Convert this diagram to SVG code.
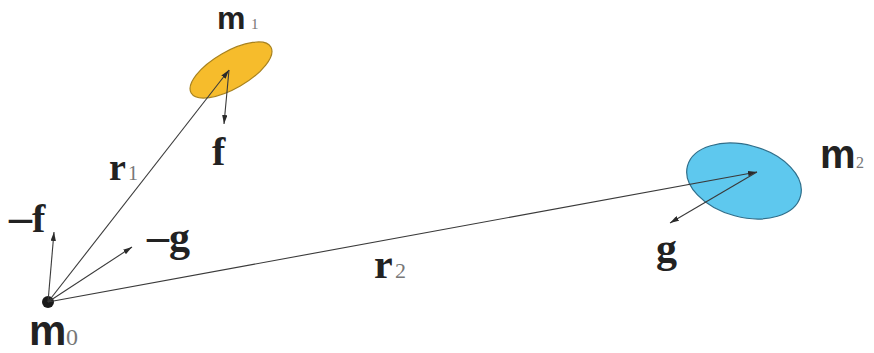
<svg xmlns="http://www.w3.org/2000/svg" width="874" height="353" viewBox="0 0 874 353">
<style>
.conn{stroke:#3a3a3a;stroke-width:1.1;fill:none;marker-end:url(#ah)}
.ms{font-family:"Liberation Sans",Arial,sans-serif;font-weight:bold;fill:#222}
.bs{font-family:"Liberation Serif","Times New Roman",serif;font-weight:bold;fill:#222}
.sub{font-family:"Liberation Serif","Times New Roman",serif;fill:#777}
</style>
<defs>
<marker id="ah" viewBox="0 0 10 6" refX="10" refY="3" markerWidth="9" markerHeight="5.4" markerUnits="userSpaceOnUse" orient="auto">
<path d="M0,0 L10,3 L0,6 Z" fill="#2a2a2a"/>
</marker>
</defs>
<rect width="874" height="353" fill="#fff"/>
<g id="m1">
<ellipse cx="231" cy="70" rx="46" ry="18.5" transform="rotate(-30 231 70)" fill="#F6BC2C" stroke="#A8821E" stroke-width="1.2"/>
<text class="ms" x="217" y="29" font-size="32">m</text><text class="sub" x="251" y="29" font-size="15">1</text>
</g>
<g id="m2">
<ellipse cx="744" cy="181" rx="58.5" ry="36" transform="rotate(15 744 181)" fill="#5EC8EE" stroke="#2F6E8A" stroke-width="1.2"/>
<text class="ms" x="820" y="168" font-size="40">m</text><text class="sub" x="856" y="168" font-size="16">2</text>
</g>
<g id="m0">
<circle cx="48" cy="302" r="6" fill="#1a1a1a"/>
<text class="ms" x="29" y="345" font-size="42">m</text><text class="sub" x="66" y="345" font-size="24">0</text>
</g>
<g id="connectors">
<line class="conn" x1="48" y1="302" x2="229" y2="70"/>
<line class="conn" x1="48" y1="302" x2="757" y2="172"/>
<line class="conn" x1="229" y1="70" x2="224" y2="124"/>
<line class="conn" x1="48" y1="302" x2="54" y2="232"/>
<line class="conn" x1="48" y1="302" x2="132" y2="247"/>
<line class="conn" x1="757" y1="172" x2="670" y2="223"/>
</g>
<g id="labels">
<text class="bs" x="212" y="165" font-size="40">f</text>
<text class="bs" x="109" y="180" font-size="38">r</text><text class="sub" x="128" y="180" font-size="20">1</text>
<text class="bs" x="374" y="278" font-size="42">r</text><text class="sub" x="395" y="278" font-size="22">2</text>
<text class="bs" x="9" y="232" font-size="40"><tspan font-size="46">–</tspan>f</text>
<text class="bs" x="147" y="251" font-size="42"><tspan font-size="44">–</tspan>g</text>
<text class="bs" x="656" y="262" font-size="42">g</text>
</g>
</svg>
